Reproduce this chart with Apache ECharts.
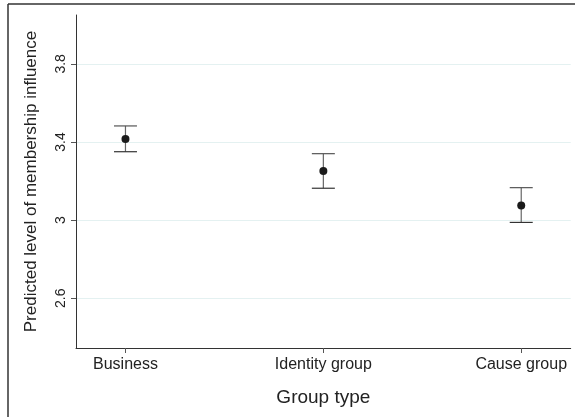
<!DOCTYPE html>
<html>
<head>
<meta charset="utf-8">
<script src="https://cdn.jsdelivr.net/npm/echarts@6/dist/echarts.min.js"></script>
<style>
html,body{margin:0;padding:0;background:#fff;}
#c{width:575px;height:417px;}
</style>
</head>
<body>
<div id="c"></div>
<script>
const categories = ['Business', 'Identity group', 'Cause group'];
const means = [3.415, 3.251, 3.075];
const lower = [3.350, 3.163, 2.988];
const upper = [3.482, 3.340, 3.166];
const yTicks = [2.6, 3, 3.4, 3.8];
const xTicks = [0, 1, 2];

const chart = echarts.init(document.getElementById('c'), null, {renderer: 'canvas'});
const font = '"Liberation Sans", Arial, sans-serif';

const option = {
  backgroundColor: '#fff',
  animation: false,
  grid: {left: 76, top: 15, right: 4.3, bottom: 69, containLabel: false},
  graphic: [
    {type: 'line', shape: {x1: 8, y1: 4, x2: 575, y2: 4}, style: {stroke: '#333', lineWidth: 1.5}},
    {type: 'line', shape: {x1: 8, y1: 4, x2: 8, y2: 417}, style: {stroke: '#333', lineWidth: 1.5}}
  ],
  xAxis: {
    type: 'value', min: -0.25, max: 2.25,
    name: 'Group type', nameLocation: 'middle', nameGap: 40,
    nameTextStyle: {fontFamily: font, fontSize: 19, color: '#222'},
    axisLine: {show: true, onZero: false, lineStyle: {color: '#333', width: 1}},
    axisTick: {show: true, length: 5, lineStyle: {color: '#555'}, customValues: xTicks},
    axisLabel: {fontFamily: font, fontSize: 16, color: '#222', margin: 9, customValues: xTicks,
      formatter: v => categories[Math.round(v)]},
    splitLine: {show: false}
  },
  yAxis: {
    type: 'value', min: 2.345, max: 4.05,
    name: 'Predicted level of membership influence', nameLocation: 'middle', nameGap: 36, nameRotate: 90,
    nameTextStyle: {fontFamily: font, fontSize: 17, color: '#222'},
    axisLine: {show: true, onZero: false, lineStyle: {color: '#333', width: 1}},
    axisTick: {show: true, length: 5, lineStyle: {color: '#555'}, customValues: yTicks},
    axisLabel: {fontFamily: font, fontSize: 14, color: '#222', rotate: 90, margin: 8, customValues: yTicks,
      formatter: v => (Math.abs(v - 3) < 1e-9 ? '3' : v.toFixed(1))},
    splitLine: {show: true, lineStyle: {color: '#e4f1f1', width: 1}}
  },
  series: [
    {
      type: 'custom',
      data: categories.map((c, i) => [i, lower[i], upper[i]]),
      renderItem: function (params, api) {
        const x = api.value(0);
        const lo = api.coord([x, api.value(1)]);
        const hi = api.coord([x, api.value(2)]);
        const hw = 11.5;
        return {
          type: 'group',
          children: [
            {type: 'line', shape: {x1: lo[0], y1: lo[1], x2: hi[0], y2: hi[1]}, style: {stroke: '#666', lineWidth: 1.2}},
            {type: 'line', shape: {x1: lo[0] - hw, y1: lo[1], x2: lo[0] + hw, y2: lo[1]}, style: {stroke: '#333', lineWidth: 1.2}},
            {type: 'line', shape: {x1: hi[0] - hw, y1: hi[1], x2: hi[0] + hw, y2: hi[1]}, style: {stroke: '#555', lineWidth: 1.2}}
          ]
        };
      },
      z: 2
    },
    {
      type: 'scatter',
      data: categories.map((c, i) => [i, means[i]]),
      symbol: 'circle', symbolSize: 8,
      itemStyle: {color: '#1a1a1a', opacity: 1},
      z: 3
    }
  ]
};
chart.setOption(option);
</script>
</body>
</html>
